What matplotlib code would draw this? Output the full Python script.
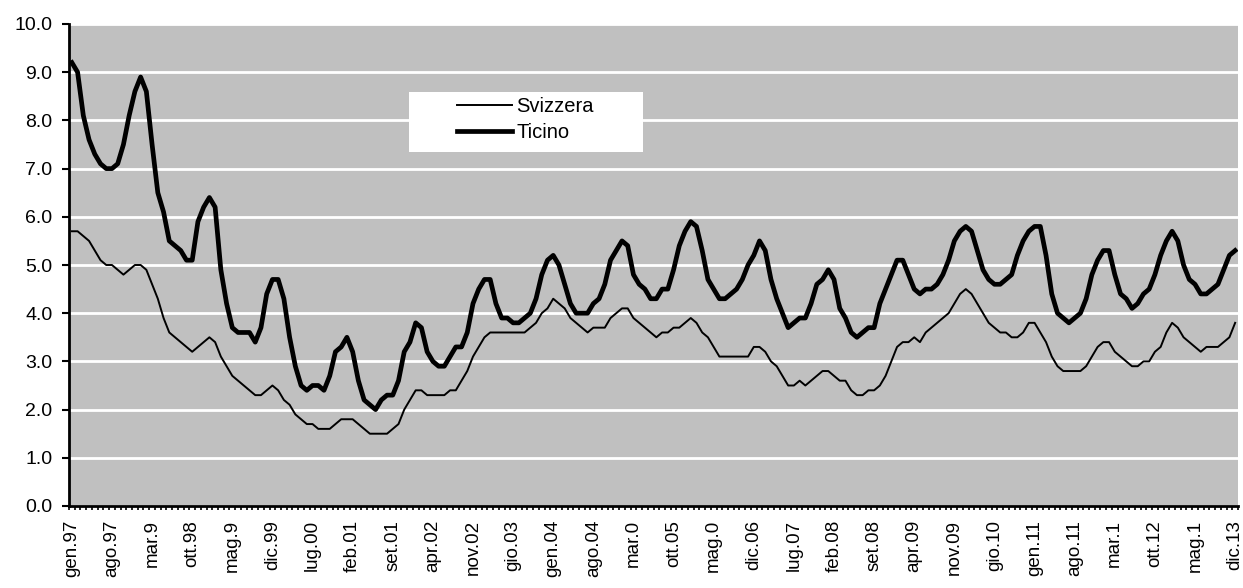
import numpy as np
import matplotlib
matplotlib.use("Agg")
import matplotlib.pyplot as plt
from matplotlib.patches import Rectangle

# -----------------------------------------
# DATA (monthly unemployment rate, gen.97 - dic.13)
# -----------------------------------------

ticino = [
    9.2, 9.0, 8.1, 7.6, 7.3, 7.1, 7.0, 7.0, 7.1, 7.5, 8.1, 8.6,
    8.9, 8.6, 7.5, 6.5, 6.1, 5.5, 5.4, 5.3, 5.1, 5.1, 5.9, 6.2,
    6.4, 6.2, 4.9, 4.2, 3.7, 3.6, 3.6, 3.6, 3.4, 3.7, 4.4, 4.7,
    4.7, 4.3, 3.5, 2.9, 2.5, 2.4, 2.5, 2.5, 2.4, 2.7, 3.2, 3.3,
    3.5, 3.2, 2.6, 2.2, 2.1, 2.0, 2.2, 2.3, 2.3, 2.6, 3.2, 3.4,
    3.8, 3.7, 3.2, 3.0, 2.9, 2.9, 3.1, 3.3, 3.3, 3.6, 4.2, 4.5,
    4.7, 4.7, 4.2, 3.9, 3.9, 3.8, 3.8, 3.9, 4.0, 4.3, 4.8, 5.1,
    5.2, 5.0, 4.6, 4.2, 4.0, 4.0, 4.0, 4.2, 4.3, 4.6, 5.1, 5.3,
    5.5, 5.4, 4.8, 4.6, 4.5, 4.3, 4.3, 4.5, 4.5, 4.9, 5.4, 5.7,
    5.9, 5.8, 5.3, 4.7, 4.5, 4.3, 4.3, 4.4, 4.5, 4.7, 5.0, 5.2,
    5.5, 5.3, 4.7, 4.3, 4.0, 3.7, 3.8, 3.9, 3.9, 4.2, 4.6, 4.7,
    4.9, 4.7, 4.1, 3.9, 3.6, 3.5, 3.6, 3.7, 3.7, 4.2, 4.5, 4.8,
    5.1, 5.1, 4.8, 4.5, 4.4, 4.5, 4.5, 4.6, 4.8, 5.1, 5.5, 5.7,
    5.8, 5.7, 5.3, 4.9, 4.7, 4.6, 4.6, 4.7, 4.8, 5.2, 5.5, 5.7,
    5.8, 5.8, 5.2, 4.4, 4.0, 3.9, 3.8, 3.9, 4.0, 4.3, 4.8, 5.1,
    5.3, 5.3, 4.8, 4.4, 4.3, 4.1, 4.2, 4.4, 4.5, 4.8, 5.2, 5.5,
    5.7, 5.5, 5.0, 4.7, 4.6, 4.4, 4.4, 4.5, 4.6, 4.9, 5.2, 5.3,
]

svizzera = [
    5.7, 5.7, 5.6, 5.5, 5.3, 5.1, 5.0, 5.0, 4.9, 4.8, 4.9, 5.0,
    5.0, 4.9, 4.6, 4.3, 3.9, 3.6, 3.5, 3.4, 3.3, 3.2, 3.3, 3.4,
    3.5, 3.4, 3.1, 2.9, 2.7, 2.6, 2.5, 2.4, 2.3, 2.3, 2.4, 2.5,
    2.4, 2.2, 2.1, 1.9, 1.8, 1.7, 1.7, 1.6, 1.6, 1.6, 1.7, 1.8,
    1.8, 1.8, 1.7, 1.6, 1.5, 1.5, 1.5, 1.5, 1.6, 1.7, 2.0, 2.2,
    2.4, 2.4, 2.3, 2.3, 2.3, 2.3, 2.4, 2.4, 2.6, 2.8, 3.1, 3.3,
    3.5, 3.6, 3.6, 3.6, 3.6, 3.6, 3.6, 3.6, 3.7, 3.8, 4.0, 4.1,
    4.3, 4.2, 4.1, 3.9, 3.8, 3.7, 3.6, 3.7, 3.7, 3.7, 3.9, 4.0,
    4.1, 4.1, 3.9, 3.8, 3.7, 3.6, 3.5, 3.6, 3.6, 3.7, 3.7, 3.8,
    3.9, 3.8, 3.6, 3.5, 3.3, 3.1, 3.1, 3.1, 3.1, 3.1, 3.1, 3.3,
    3.3, 3.2, 3.0, 2.9, 2.7, 2.5, 2.5, 2.6, 2.5, 2.6, 2.7, 2.8,
    2.8, 2.7, 2.6, 2.6, 2.4, 2.3, 2.3, 2.4, 2.4, 2.5, 2.7, 3.0,
    3.3, 3.4, 3.4, 3.5, 3.4, 3.6, 3.7, 3.8, 3.9, 4.0, 4.2, 4.4,
    4.5, 4.4, 4.2, 4.0, 3.8, 3.7, 3.6, 3.6, 3.5, 3.5, 3.6, 3.8,
    3.8, 3.6, 3.4, 3.1, 2.9, 2.8, 2.8, 2.8, 2.8, 2.9, 3.1, 3.3,
    3.4, 3.4, 3.2, 3.1, 3.0, 2.9, 2.9, 3.0, 3.0, 3.2, 3.3, 3.6,
    3.8, 3.7, 3.5, 3.4, 3.3, 3.2, 3.3, 3.3, 3.3, 3.4, 3.5, 3.8,
]

# tick labels as they appear (one every 7 months, some truncated)
tick_labels = [
    "gen.97", "ago.97", "mar.9", "ott.98", "mag.9", "dic.99", "lug.00",
    "feb.01", "set.01", "apr.02", "nov.02", "gio.03", "gen.04", "ago.04",
    "mar.0", "ott.05", "mag.0", "dic.06", "lug.07", "feb.08", "set.08",
    "apr.09", "nov.09", "gio.10", "gen.11", "ago.11", "mar.1", "ott.12",
    "mag.1", "dic.13",
]

# ------------------------------------------
# FIGURE
# ------------------------------------------

plt.rcParams["font.family"] = ["Liberation Sans", "DejaVu Sans"]

W, H = 1243, 588
fig = plt.figure(figsize=(W / 100, H / 100), dpi=100)
ax = fig.add_axes([69 / W, (H - 506) / H, (1238 - 69) / W, (506 - 24) / H])

x = np.arange(len(ticino))

ax.set_facecolor("#c0c0c0")
ax.plot(x, svizzera, color="black", lw=1.4, label="Svizzera")
ax.plot(x, ticino, color="black", lw=3.4, label="Ticino", solid_joinstyle="round")

# ------------------------------------------
# AXES
# ------------------------------------------

ax.set_xlim(-0.5, len(x) - 0.5)
ax.set_ylim(0, 10)
yt = np.arange(0, 10.1, 1.0)
ax.set_yticks(yt)
ax.set_yticklabels([f"{v:.1f}" for v in yt], fontsize=14)
ax.yaxis.grid(True, color="white", lw=2)
ax.set_axisbelow(True)

ax.set_xticks(x[::7])
ax.set_xticklabels(tick_labels, rotation=90, fontsize=13.5)
ax.set_xticks(np.arange(-0.5, len(x), 1), minor=True)
ax.tick_params(axis="x", which="major", length=0, pad=10)
ax.tick_params(axis="x", which="minor", length=3, width=1.2, direction="out")
ax.tick_params(axis="y", length=5, width=1.5, pad=7)

for side in ["top", "right"]:
    ax.spines[side].set_visible(False)
for side in ["left", "bottom"]:
    ax.spines[side].set_linewidth(2)

# ------------------------------------------
# LEGEND (white box + frameless legend)
# ------------------------------------------

box = Rectangle((409 / W, 1 - 152 / H), (643 - 409) / W, (152 - 92) / H,
                transform=fig.transFigure, facecolor="white", edgecolor="none", zorder=5)
fig.patches.append(box)

leg = fig.legend(loc="upper left", bbox_to_anchor=(457 / W, 1 - 97 / H),
                 fontsize=14.5, frameon=False,
                 handlelength=2.75, handletextpad=0.2, borderpad=0, labelspacing=0.35,
                 borderaxespad=0)
leg.set_zorder(6)

fig.savefig("out.png", dpi=100)
